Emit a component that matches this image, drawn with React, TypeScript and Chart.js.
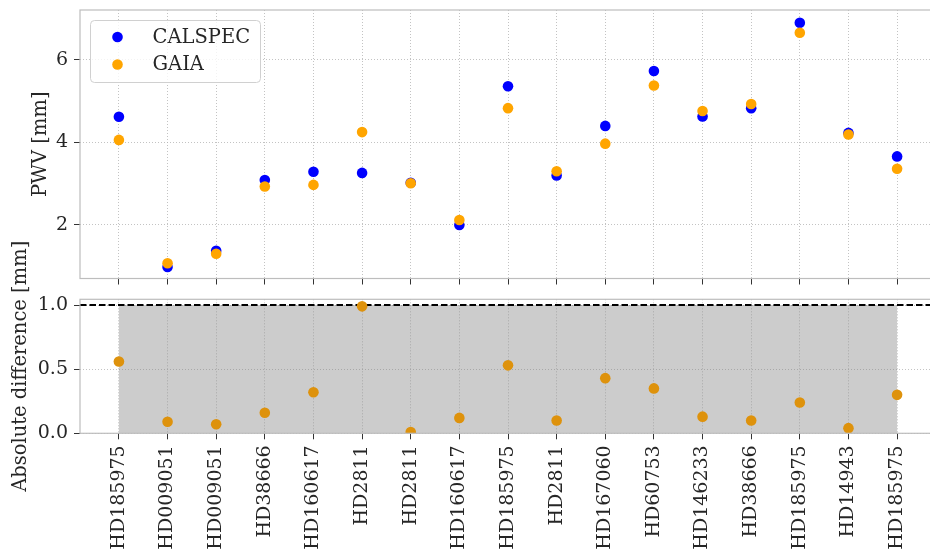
import React, { useEffect, useRef } from "react";
import { Chart, registerables } from "chart.js";

Chart.register(...registerables);
Chart.defaults.font.family = "'DejaVu Serif', 'Liberation Serif', serif";

// Star observed in each run, in observation order
const stars = [
  "HD185975", "HD009051", "HD009051", "HD38666", "HD160617", "HD2811",
  "HD2811", "HD160617", "HD185975", "HD2811", "HD167060", "HD60753",
  "HD146233", "HD38666", "HD185975", "HD14943", "HD185975",
];

// Precipitable water vapour [mm] from each reference catalogue
const calspecPwv = [4.62, 0.98, 1.37, 3.09, 3.29, 3.26, 3.02, 2.0, 5.36, 3.2, 4.4, 5.73, 4.63, 4.83, 6.9, 4.23, 3.66];
const gaiaPwv = [4.06, 1.07, 1.3, 2.93, 2.97, 4.25, 3.01, 2.12, 4.83, 3.3, 3.97, 5.38, 4.76, 4.93, 6.66, 4.19, 3.36];

const pwvTicks = [2, 4, 6];
const diffTicks = [0, 0.5, 1.0];
const diffLimit = 1.0;

const absDiff = calspecPwv.map((v, i) => Math.abs(v - gaiaPwv[i]));

const TEXT = "#262626";
const GRID = "#b4b4b4";
const TICK_SIZE = 19;
const LABEL_SIZE = 19.5;
const X_MIN = -0.8;
const X_MAX = stars.length - 1 + 0.8;
// The figure is trimmed on the right, so the canvases run a little past the page
const CANVAS_W = 940;

// Light box around the plotting area
const framePlugin = {
  id: "frame",
  afterDraw(chart: any) {
    const { ctx, chartArea: a } = chart;
    ctx.save();
    ctx.strokeStyle = "#bdbdbd";
    ctx.lineWidth = 1.2;
    ctx.strokeRect(a.left, a.top, a.right - a.left, a.bottom - a.top);
    ctx.restore();
  },
};

// Boxed legend in the upper-left corner of the plotting area
const boxLegendPlugin = {
  id: "boxLegend",
  afterDraw(chart: any) {
    const { ctx, chartArea: a } = chart;
    const sets = chart.data.datasets.filter((d: any) => d.label);
    const x0 = a.left + 10.5;
    const y0 = a.top + 10.5;
    const w = 170;
    const rowH = 27.5;
    const h = 7 + rowH * sets.length;
    ctx.save();
    ctx.beginPath();
    ctx.roundRect(x0, y0, w, h, 4);
    ctx.fillStyle = "rgba(255,255,255,0.8)";
    ctx.fill();
    ctx.strokeStyle = "#d0d0d0";
    ctx.lineWidth = 1;
    ctx.stroke();
    ctx.font = `${LABEL_SIZE}px 'DejaVu Serif'`;
    ctx.textBaseline = "middle";
    ctx.textAlign = "left";
    sets.forEach((d: any, i: number) => {
      const cy = y0 + 16.5 + i * rowH;
      ctx.beginPath();
      ctx.arc(x0 + 27, cy, 5.3, 0, Math.PI * 2);
      ctx.fillStyle = d.backgroundColor;
      ctx.fill();
      ctx.fillStyle = TEXT;
      ctx.fillText(d.label, x0 + 62, cy + 0.5);
    });
    ctx.restore();
  },
};

// Rotated caption for the y axis of the lower panel
const sideCaptionPlugin = {
  id: "sideCaption",
  afterDraw(chart: any, _args: any, opts: any) {
    const { ctx, chartArea: a } = chart;
    ctx.save();
    ctx.translate(opts.x, (a.top + a.bottom) / 2);
    ctx.rotate(-Math.PI / 2);
    ctx.font = `${LABEL_SIZE}px 'DejaVu Serif'`;
    ctx.fillStyle = TEXT;
    ctx.textAlign = "center";
    ctx.textBaseline = "middle";
    ctx.fillText(opts.text, 0, 0);
    ctx.restore();
  },
};

function starAxis(showLabels: boolean, height: number) {
  return {
    type: "linear",
    bounds: "data",
    min: X_MIN,
    max: X_MAX,
    afterBuildTicks: (s: any) => {
      s.ticks = stars.map((_, i) => ({ value: i }));
    },
    afterFit: (s: any) => {
      s.height = height;
      s.paddingLeft = 0;
      s.paddingRight = 0;
    },
    ticks: {
      autoSkip: false,
      minRotation: 90,
      maxRotation: 90,
      padding: 6,
      color: TEXT,
      font: { size: TICK_SIZE },
      callback: (v: number) => (showLabels ? stars[Math.round(v)] ?? "" : ""),
    },
    grid: { color: GRID, lineWidth: 0.8, tickColor: "#333", tickLength: 6, tickWidth: 1 },
    border: { display: false, dash: [1, 2] },
  };
}

function valueAxis(min: number, max: number, ticks: number[], fmt: (v: number) => string, extra: any = {}) {
  return {
    type: "linear",
    bounds: "data",
    min,
    max,
    afterBuildTicks: (s: any) => {
      s.ticks = ticks.map((value) => ({ value }));
    },
    afterFit: (s: any) => {
      s.width = 80;
      s.paddingTop = 0;
      s.paddingBottom = 0;
    },
    ticks: { padding: 6, color: TEXT, font: { size: TICK_SIZE }, callback: (v: number) => fmt(v) },
    grid: { color: GRID, lineWidth: 0.8, tickColor: "#333", tickLength: 6, tickWidth: 1 },
    border: { display: false, dash: [1, 2] },
    ...extra,
  };
}

export default function App() {
  const topRef = useRef<HTMLCanvasElement>(null);
  const bottomRef = useRef<HTMLCanvasElement>(null);

  useEffect(() => {
    const top = new Chart(topRef.current!, {
      type: "scatter",
      data: {
        datasets: [
          {
            label: "CALSPEC",
            data: calspecPwv.map((y, x) => ({ x, y })),
            backgroundColor: "#0000ff",
            pointRadius: 5.3,
            pointBorderWidth: 0,
            order: 1,
          },
          {
            label: "GAIA",
            data: gaiaPwv.map((y, x) => ({ x, y })),
            backgroundColor: "#ffa500",
            pointRadius: 5.3,
            pointBorderWidth: 0,
            order: 0,
          },
        ],
      },
      options: {
        animation: false,
        responsive: false,
        layout: { autoPadding: false, padding: { top: 10, right: 4, left: 0, bottom: 0 } },
        plugins: { legend: { display: false }, tooltip: { enabled: false } },
        scales: {
          x: starAxis(false, 21.5),
          y: valueAxis(0.7, 7.21, pwvTicks, (v) => String(v), {
            title: {
              display: true,
              text: "PWV [mm]",
              color: TEXT,
              font: { size: LABEL_SIZE },
              padding: { top: 29.5, bottom: 0 },
            },
          }),
        },
      } as any,
      plugins: [framePlugin, boxLegendPlugin],
    });

    const bottom = new Chart(bottomRef.current!, {
      type: "scatter",
      data: {
        datasets: [
          {
            label: "",
            data: absDiff.map((y, x) => ({ x, y })),
            backgroundColor: "#de920c",
            pointRadius: 5.3,
            pointBorderWidth: 0,
          },
          {
            type: "line",
            label: "",
            data: [
              { x: X_MIN, y: diffLimit },
              { x: X_MAX, y: diffLimit },
            ],
            borderColor: "#000",
            borderWidth: 2,
            borderDash: [6.5, 3],
            pointRadius: 0,
            fill: false,
          },
          {
            type: "line",
            label: "",
            data: [
              { x: 0, y: diffLimit },
              { x: stars.length - 1, y: diffLimit },
            ],
            borderWidth: 0,
            pointRadius: 0,
            backgroundColor: "rgba(128,128,128,0.4)",
            fill: "origin",
          },
        ],
      } as any,
      options: {
        animation: false,
        responsive: false,
        layout: { autoPadding: false, padding: { top: 299.3, right: 4, left: 0, bottom: 0 } },
        plugins: {
          legend: { display: false },
          tooltip: { enabled: false },
          sideCaption: { text: "Absolute difference [mm]", x: 21 },
        },
        scales: {
          x: starAxis(true, 120.7),
          y: valueAxis(0, 1.045, diffTicks, (v) => v.toFixed(1)),
        },
      } as any,
      plugins: [framePlugin, sideCaptionPlugin],
    });

    return () => {
      top.destroy();
      bottom.destroy();
    };
  }, []);

  return (
    <div
      style={{
        position: "absolute",
        left: 0,
        top: 0,
        width: 930,
        height: 554,
        overflow: "hidden",
        background: "#fff",
      }}
    >
      <canvas
        ref={bottomRef}
        width={CANVAS_W}
        height={554}
        style={{ position: "absolute", left: 0, top: 0, width: CANVAS_W, height: 554 }}
      />
      <canvas
        ref={topRef}
        width={CANVAS_W}
        height={300}
        style={{ position: "absolute", left: 0, top: 0, width: CANVAS_W, height: 300 }}
      />
    </div>
  );
}
